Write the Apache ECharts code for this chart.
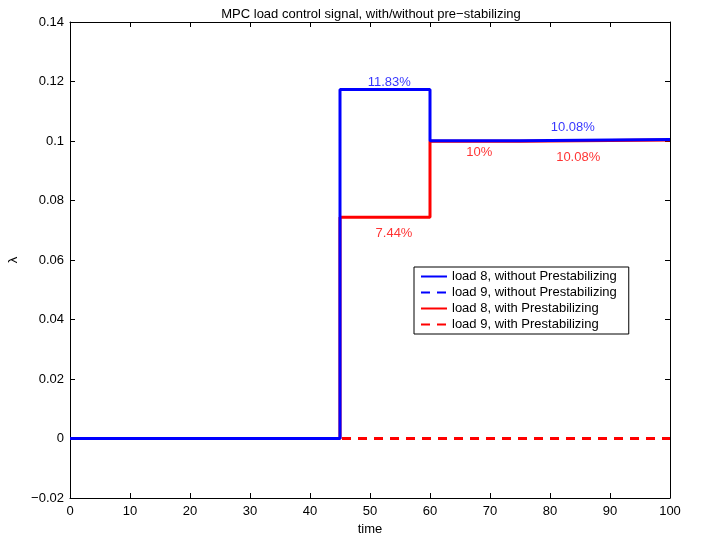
<!DOCTYPE html>
<html><head><meta charset="utf-8">
<script src="https://cdn.jsdelivr.net/npm/echarts@6/dist/echarts.min.js"></script>
<style>html,body{margin:0;padding:0;background:#fff}#c{width:709px;height:535px}</style>
</head><body><div id="c"></div>
<script>
// time points where the signals change (step: value holds from that time on)
const times = [0, 45, 60, 75, 100];
const load8Without = [0, 0.1173, 0.1001, 0.1005, 0.1005];
const load9Without = [0, 0, 0, 0, 0];
const load8With = [0, 0.0744, 0.0999, 0.1003, 0.1003];
const load9With = [0, 0, 0, 0, 0];
const seriesNames = ['load 8, without Prestabilizing', 'load 9, without Prestabilizing', 'load 8, with Prestabilizing', 'load 9, with Prestabilizing'];
// annotations
const noteText = ['11.83%', '10.08%', '7.44%', '10%', '10.08%'];
const noteX = [53.2, 83.8, 54.0, 68.2, 84.7];
const noteY = [0.1196, 0.1045, 0.0690, 0.0963, 0.0944];
const noteColor = ['#0000ff', '#0000ff', '#ff0000', '#ff0000', '#ff0000'];
const xTicks = [0, 10, 20, 30, 40, 50, 60, 70, 80, 90, 100];
const yTicks = [-0.02, 0, 0.02, 0.04, 0.06, 0.08, 0.1, 0.12, 0.14];

const FONT = 'Liberation Sans, Arial, Helvetica, sans-serif';
const pts = arr => times.map((t, i) => [t, arr[i]]);
const yFmt = v => {
  let s = (+v.toFixed(4)).toString();
  return s.replace('-', '\u2212');
};
const chart = echarts.init(document.getElementById('c'));
const axisCommon = {
  axisLine: {show: true, onZero: false, lineStyle: {color: '#000', width: 1}},
  axisTick: {show: true, inside: true, length: 5, lineStyle: {color: '#000'}},
  splitLine: {show: false}
};
chart.setOption({
  animation: false,
  backgroundColor: '#fff',
  title: {text: 'MPC load control signal, with/without pre\u2212stabilizing', left: 366, top: 3, textAlign: 'center',
    textStyle: {fontFamily: FONT, fontSize: 13, fontWeight: 'normal', color: '#000'}},
  grid: {left: 70, right: 39, top: 22, bottom: 37, show: false, containLabel: false, outerBoundsMode: 'none'},
  legend: {
    data: seriesNames, orient: 'vertical', left: 414, top: 267,
    backgroundColor: '#fff', borderColor: '#000', borderWidth: 1, padding: [3, 12, 3, 6],
    itemWidth: 26, itemHeight: 12, itemGap: 3,
    itemStyle: {opacity: 0},
    textStyle: {fontFamily: FONT, fontSize: 13, color: '#000'}
  },
  xAxis: [
    Object.assign({type: 'value', min: 0, max: 100, interval: 10, position: 'bottom',
      name: 'time', nameLocation: 'middle', nameGap: 22,
      nameTextStyle: {fontFamily: FONT, fontSize: 13, color: '#000'},
      axisLabel: {fontFamily: FONT, fontSize: 13, color: '#000', margin: 7}}, axisCommon),
    Object.assign({type: 'value', min: 0, max: 100, interval: 10, position: 'top',
      axisLabel: {show: false}}, axisCommon)
  ],
  yAxis: [
    Object.assign({type: 'value', min: -0.02, max: 0.14, interval: 0.02, position: 'left',
      name: '\u03bb', nameLocation: 'middle', nameGap: 43, nameRotate: 90,
      nameTextStyle: {fontFamily: FONT, fontSize: 13, color: '#000'},
      axisLabel: {fontFamily: FONT, fontSize: 13, color: '#000', margin: 6, formatter: yFmt}}, axisCommon),
    Object.assign({type: 'value', min: -0.02, max: 0.14, interval: 0.02, position: 'right',
      axisLabel: {show: false}}, axisCommon)
  ],
  series: [
    {name: seriesNames[0], type: 'line', step: 'end', data: pts(load8Without), symbol: 'none', z: 4,
      itemStyle: {color: '#0000ff'}, lineStyle: {color: '#0000ff', width: 3}},
    {name: seriesNames[1], type: 'line', step: 'end', data: pts(load9Without), symbol: 'none', z: 2,
      itemStyle: {color: '#0000ff'}, lineStyle: {color: '#0000ff', width: 3, type: [9, 7]}},
    {name: seriesNames[2], type: 'line', step: 'end', data: pts(load8With), symbol: 'none', z: 3,
      itemStyle: {color: '#ff0000'}, lineStyle: {color: '#ff0000', width: 3}},
    {name: seriesNames[3], type: 'line', step: 'end', data: pts(load9With), symbol: 'none', z: 3,
      itemStyle: {color: '#ff0000'}, lineStyle: {color: '#ff0000', width: 3, type: [9, 7]}},
    {name: 'notes', type: 'scatter', symbolSize: 0, silent: true, z: 5,
      data: noteText.map((t, i) => ({value: [noteX[i], noteY[i]],
        label: {show: true, position: 'inside', formatter: t, color: noteColor[i], fontFamily: FONT, fontSize: 13}}))}
  ]
});
</script></body></html>
